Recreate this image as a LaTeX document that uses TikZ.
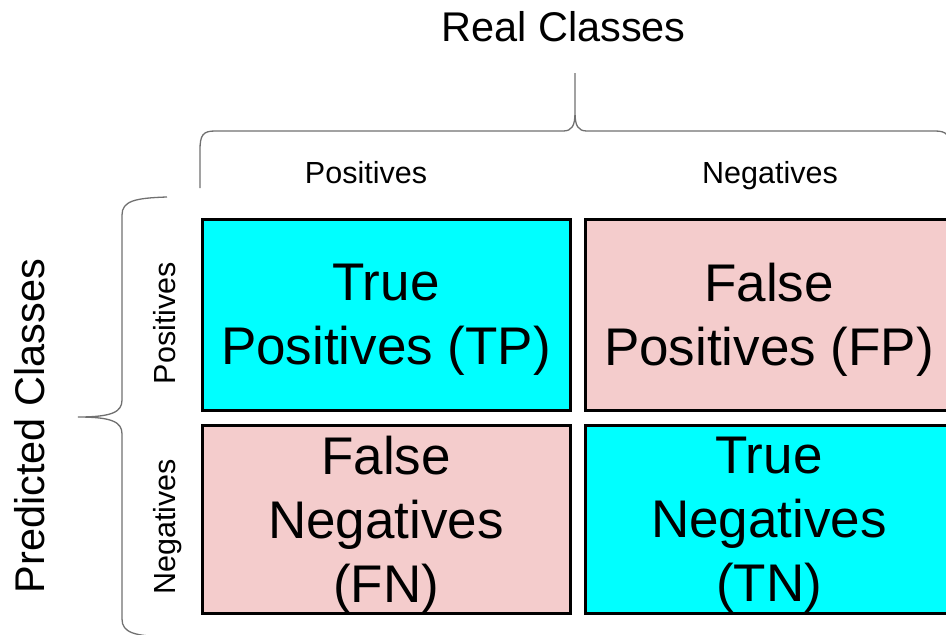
\documentclass[tikz,border=0pt]{standalone}
\usepackage{fontspec}
\setmainfont{Liberation Sans}
\usetikzlibrary{positioning}

\definecolor{hitcyan}{HTML}{00FFFF}
\definecolor{misspink}{HTML}{F4CCCC}
\definecolor{bracegray}{HTML}{707070}

\tikzset{
  cell/.style={draw=black, line width=3pt, minimum width=368pt, minimum height=191pt,
    align=center, inner sep=0pt, text depth=0pt, font=\fontsize{53}{64}\selectfont},
  hit/.style={cell, fill=hitcyan},
  miss/.style={cell, fill=misspink},
  bigtitle/.style={font=\fontsize{41.5}{48}\selectfont, anchor=base, inner sep=0pt},
  classlabel/.style={font=\fontsize{30.5}{36}\selectfont, anchor=base, inner sep=0pt},
  curlybrace/.style={draw=bracegray, line width=1.3pt}
}

\begin{document}
\begin{tikzpicture}[x=1pt, y=-1pt]
    \useasboundingbox (0,0) rectangle (946,635);

    \node[hit] (tp) at (386,314.5) {True\\Positives (TP)};
    \node[miss, right=12pt of tp] (fp) {False\\Positives (FP)};
    \node[miss, below=12pt of tp, minimum height=188pt] (fn) {False\\Negatives\\(FN)};
    \node[hit, right=12pt of fn, minimum height=188pt] (tn) {True\\Negatives\\(TN)};

    \node[bigtitle] (realTitle) at (563.5,41) {Real Classes};
    \node[bigtitle, rotate=90] (predTitle) at (45,426) {Predicted Classes};

    \node[classlabel] (colPos) at (366,183) {Positives};
    \node[classlabel] (colNeg) at (770,183) {Negatives};
    \node[classlabel, rotate=90] (rowPos) at (175,323) {Positives};
    \node[classlabel, rotate=90] (rowNeg) at (175,527) {Negatives};

    \coordinate (topTip) at (575,73);
    \coordinate (leftTip) at (78,417);

    \draw[curlybrace] (200,188) -- (200,150) .. controls (200,135) and (203,131) .. (215,131)
      -- (563,131) .. controls (572,131) and (575,126) .. (575,112) -- (topTip)
      -- (575,112) .. controls (575,126) and (578,131) .. (587,131)
      -- (935,131) .. controls (947,131) and (950,135) .. (950,150) -- (950,188);

    \draw[curlybrace] (167,197) .. controls (135,198) and (122,201) .. (122,215)
      -- (122,400) .. controls (122,412) and (112,417) .. (leftTip)
      .. controls (112,417) and (122,422) .. (122,434)
      -- (122,619) .. controls (122,633) and (135,636) .. (167,637);
\end{tikzpicture}
\end{document}
